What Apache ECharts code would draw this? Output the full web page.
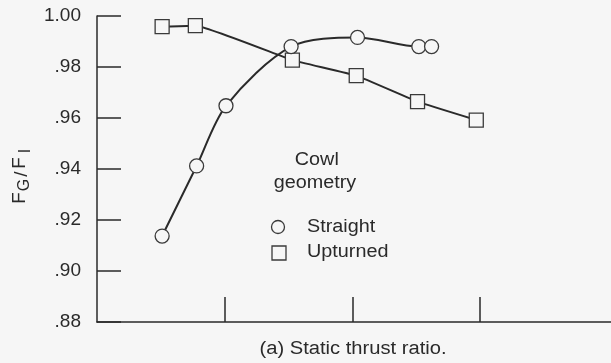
<!DOCTYPE html>
<html>
<head>
<meta charset="utf-8">
<script src="https://cdn.jsdelivr.net/npm/echarts@6/dist/echarts.min.js"></script>
<style>
  html, body { margin: 0; padding: 0; background: #f6f6f6; }
  #chart { width: 611px; height: 363px; }
</style>
</head>
<body>
<div id="chart"></div>
<script>
// Static thrust ratio F_G/F_I for two cowl geometries
const straightX = [0.51, 0.78, 1.01, 1.52, 2.04, 2.52, 2.62];
const straightY = [0.9137, 0.9412, 0.9648, 0.9880, 0.9916, 0.9880, 0.9880];
const upturnedX = [0.51, 0.77, 1.53, 2.03, 2.51, 2.97];
const upturnedY = [0.9958, 0.9962, 0.9827, 0.9766, 0.9664, 0.9592];
const yTicks = [0.88, 0.90, 0.92, 0.94, 0.96, 0.98, 1.00];
const xTicks = [1, 2, 3];

const BG = '#f6f6f6';
const INK = '#2a2a2a';
const FONT = '"Liberation Sans", Arial, Helvetica, sans-serif';

const pairs = (xs, ys) => xs.map((x, i) => [x, ys[i]]);

const chart = echarts.init(document.getElementById('chart'), null, { renderer: 'canvas' });

function txt(s, x, y, size, opts) {
  return Object.assign({
    type: 'text', x: x, y: y, z: 10,
    style: {
      text: s, fill: INK, font: size + 'px ' + FONT,
      align: 'center', verticalAlign: 'middle'
    }
  }, opts || {});
}

const vert = { rotation: Math.PI / 2 };

chart.setOption({
  backgroundColor: BG,
  animation: false,
  grid: { left: 97, right: 0, top: 16, bottom: 41, containLabel: false },
  xAxis: {
    type: 'value', min: 0, max: 4.025,
    splitLine: { show: false },
    axisLine: { show: true, onZero: false, lineStyle: { color: INK, width: 1.5 } },
    axisTick: { show: true, inside: true, length: 25, customValues: xTicks,
                lineStyle: { color: INK, width: 1.5 } },
    axisLabel: { show: false }
  },
  yAxis: {
    type: 'value', min: 0.88, max: 1.00, interval: 0.02,
    splitLine: { show: false },
    axisLine: { show: true, lineStyle: { color: INK, width: 1.5 } },
    axisTick: { show: true, inside: true, length: 24, customValues: yTicks,
                lineStyle: { color: INK, width: 1.5 } },
    axisLabel: {
      show: true, margin: 16, color: INK, fontSize: 19, fontFamily: FONT,
      customValues: yTicks,
      formatter: v => { const s = v.toFixed(2); return s.startsWith('0') ? s.slice(1) : s; }
    }
  },
  series: [
    {
      name: 'Upturned', type: 'line', data: pairs(upturnedX, upturnedY),
      smooth: 0.1, symbol: 'rect', symbolSize: 14,
      lineStyle: { color: INK, width: 2 },
      itemStyle: { color: BG, borderColor: '#3a3a3a', borderWidth: 1.3 },
      z: 2
    },
    {
      name: 'Straight', type: 'line', data: pairs(straightX, straightY),
      smooth: 0.3, symbol: 'circle', symbolSize: 14,
      lineStyle: { color: INK, width: 2 },
      itemStyle: { color: BG, borderColor: '#3a3a3a', borderWidth: 1.3 },
      z: 3
    }
  ],
  graphic: [
    // y-axis title: F_G / F_I, reading bottom to top
    txt('F', 19.5, 198, 19, vert),
    txt('G', 25, 185, 16, vert),
    txt('/', 22, 174, 19, vert),
    txt('F', 19.5, 163, 19, vert),
    txt('I', 25.5, 151, 16, vert),
    // legend
    txt('Cowl', 352, 160, 18, { scaleX: 1.1, originX: 352, originY: 160 }),
    txt('geometry', 350, 183, 18, { scaleX: 1.1, originX: 350, originY: 183 }),
    { type: 'circle', z: 10, shape: { cx: 278, cy: 227, r: 6.5 },
      style: { fill: BG, stroke: '#3a3a3a', lineWidth: 1.3 } },
    { type: 'rect', z: 10, shape: { x: 272, y: 246, width: 14, height: 14 },
      style: { fill: BG, stroke: '#3a3a3a', lineWidth: 1.3 } },
    { type: 'text', z: 10, x: 307, y: 227, scaleX: 1.1,
      style: { text: 'Straight', fill: INK, font: '18px ' + FONT, align: 'left', verticalAlign: 'middle' } },
    { type: 'text', z: 10, x: 307, y: 252.5, scaleX: 1.1,
      style: { text: 'Upturned', fill: INK, font: '18px ' + FONT, align: 'left', verticalAlign: 'middle' } },
    // caption
    { type: 'text', z: 10, x: 353, y: 349, scaleX: 1.12,
      style: { text: '(a) Static thrust ratio.', fill: INK, font: '18px ' + FONT, align: 'center', verticalAlign: 'middle' } }
  ]
});
</script>
</body>
</html>
